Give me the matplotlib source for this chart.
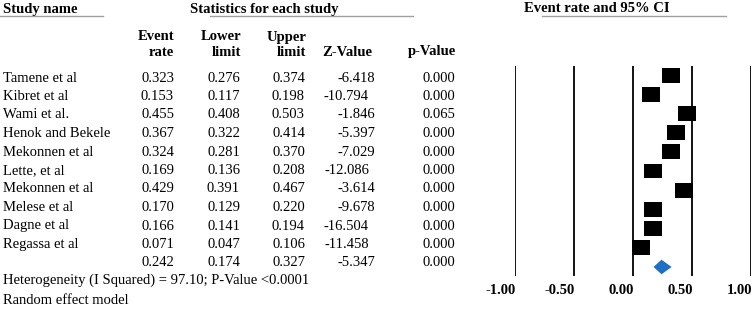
import matplotlib
matplotlib.use("Agg")
import matplotlib.pyplot as plt
from matplotlib.patches import Polygon

studies = ["Tamene et al", "Kibret et al", "Wami et al.", "Henok and Bekele",
           "Mekonnen et al", "Lette, et al", "Mekonnen et al", "Melese et al",
           "Dagne et al", "Regassa et al"]
event_rate = [0.323, 0.153, 0.455, 0.367, 0.324, 0.169, 0.429, 0.170, 0.166, 0.071]
lower = [0.276, 0.117, 0.408, 0.322, 0.281, 0.136, 0.391, 0.129, 0.141, 0.047]
upper = [0.374, 0.198, 0.503, 0.414, 0.370, 0.208, 0.467, 0.220, 0.194, 0.106]
z_value = ["-6.418", "-10.794", "-1.846", "-5.397", "-7.029", "-12.086", "-3.614",
           "-9.678", "-16.504", "-11.458"]
p_value = ["0.000", "0.000", "0.065", "0.000", "0.000", "0.000", "0.000",
           "0.000", "0.000", "0.000"]
pooled = {"rate": 0.242, "lower": 0.174, "upper": 0.327, "z": "-5.347", "p": "0.000"}
x_ticks = [-1.0, -0.5, 0.0, 0.5, 1.0]
x_tick_labels = ["-1.00", "-0.50", "0.00", "0.50", "1.00"]

W, H = 755, 315
fig = plt.figure(figsize=(W / 100, H / 100), dpi=100)
plt.rcParams['font.family'] = ['Liberation Serif', 'DejaVu Serif']

# Table axes in pixel coordinates
tab = fig.add_axes([0, 0, 1, 1])
tab.set_xlim(0, W)
tab.set_ylim(H, 0)
tab.axis("off")

fs = 10.5
bold = dict(fontsize=10.5, fontweight="bold", color="black")
tab.text(3, 9, "Study name", ha="left", va="center", **bold)
tab.plot([0, 103], [15.5, 15.5], color="#a0a0a0", lw=1)
tab.text(264, 9, "Statistics for each study", ha="center", va="center", **bold)
tab.plot([210, 413], [15.5, 15.5], color="#a0a0a0", lw=1)
tab.text(597, 9, "Event rate and 95% CI", ha="center", va="center", **bold)
tab.plot([542, 726], [15.5, 15.5], color="#a0a0a0", lw=1)

hdr = dict(fontsize=fs, fontweight="bold", ha="right", va="baseline")
y1, y2 = 40.5, 55.5
tab.text(174, y1, "Event", **hdr)
tab.text(174, y2, "rate", **hdr)
tab.text(241, y1, "Lower", **hdr)
tab.text(241, y2, "limit", **hdr)
tab.text(306, y1, "Upper", **hdr)
tab.text(306, y2, "limit", **hdr)
tab.text(372, y2, "Z-Value", **hdr)
tab.text(456, y2, "p-Value", **hdr)

def row_text(y, name, r, lo, up, z, p):
    kw = dict(fontsize=fs, va="center")
    if name:
        tab.text(3, y, name, ha="left", **kw)
    tab.text(174, y, f"{r:.3f}", ha="right", **kw)
    tab.text(240, y, f"{lo:.3f}", ha="right", **kw)
    tab.text(305, y, f"{up:.3f}", ha="right", **kw)
    tab.text(375 if len(z) < 7 else 369, y, z, ha="right", **kw)
    tab.text(455, y, p, ha="right", **kw)

for i, name in enumerate(studies):
    row_text(78 + 18.5 * i, name, event_rate[i], lower[i], upper[i], z_value[i], p_value[i])
row_text(78 + 18.5 * len(studies), "", pooled["rate"], pooled["lower"], pooled["upper"],
         pooled["z"], pooled["p"])
tab.text(3, 280, "Heterogeneity (I Squared) = 97.10; P-Value <0.0001", fontsize=fs,
         ha="left", va="center")
tab.text(3, 300, "Random effect model", fontsize=fs, ha="left", va="center")

# Forest plot axes
x0, x1 = 515, 751
ytop, ybot = 66, 276
fa = fig.add_axes([x0 / W, 1 - ybot / H, (x1 - x0) / W, (ybot - ytop) / H])
fa.set_xlim(-1, 1)
n = len(studies)
fa.set_ylim(n + 0.47, -0.47)
fa.axis("off")
for xt in x_ticks:
    fa.axvline(xt, color="black", lw=1.3)
sq_w = 18 / 118
sq_h = 15 / 19.2
rows = list(range(n))
fa.barh(rows, [sq_w] * n, left=[r - sq_w / 2 for r in event_rate], height=sq_h,
        color="black")
dh = 7.3 / 19.2
diamond = Polygon([(pooled["lower"], n), (pooled["rate"], n - dh),
                   (pooled["upper"], n), (pooled["rate"], n + dh)],
                  closed=True, facecolor="#1f6fc5", edgecolor="none")
fa.add_patch(diamond)

for xt, lab in zip(x_ticks, x_tick_labels):
    px = x0 + (xt + 1) / 2 * (x1 - x0)
    tab.text(px + 1, 291, lab, ha="right", va="center", fontsize=fs, fontweight="bold")

fig.savefig("out.png", dpi=100)
